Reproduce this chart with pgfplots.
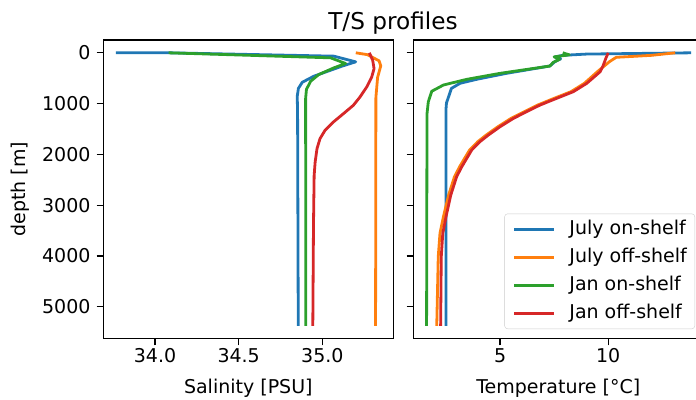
\documentclass[border=0pt]{standalone}
\usepackage{fontspec}
\setmainfont{DejaVu Sans}
\usepackage{pgfplots}
\pgfplotsset{compat=1.18}
\definecolor{c0}{HTML}{1F77B4}
\definecolor{c1}{HTML}{FF7F0E}
\definecolor{c2}{HTML}{2CA02C}
\definecolor{c3}{HTML}{D62728}
\pgfplotsset{
  tsstyle/.style={
    scale only axis, width=290pt, height=298.5pt,
    y dir=reverse, ymin=-252, ymax=5624,
    ytick={0,1000,2000,3000,4000,5000},
    tick align=outside, xtick pos=bottom, ytick pos=left,
    major tick length=6.75pt,
    axis line style={black, line width=1.3pt},
    tick style={black, line width=1.3pt},
    /pgf/number format/assume math mode=true,
    /pgf/number format/set thousands separator={},
    every tick label/.append style={font=\fontsize{19}{23}\selectfont},
    yticklabel style={xshift=-2.5pt},
    label style={font=\fontsize{19}{23}\selectfont},
    every axis plot/.append style={line width=2.8pt, line join=round},
    clip=true,
  }
}
\begin{document}
\begin{tikzpicture}[font=\fontsize{19}{23}\selectfont]
\useasboundingbox (0,0) rectangle (696pt,399pt);
\begin{axis}[tsstyle, at={(103.3pt,60.5pt)}, anchor=south west,
  xmin=33.691, xmax=35.424, xtick={34,34.5,35},
  xticklabel style={/pgf/number format/.cd, fixed, fixed zerofill, precision=1},
  xlabel={Salinity [PSU]}, ylabel={depth [m]},
  xlabel style={at={(axis description cs:0.5,-0.1826)}, anchor=base},
  ylabel style={at={(axis description cs:-0.2855,0.5)}, anchor=center, rotate=0},
]
\addplot[c0] coordinates {(33.766,0) (34.08,0) (35.069,66) (35.199,178) (35.12,260) (34.949,461) (34.88,580) (34.857,700) (34.85,856) (34.852,1200) (34.856,5375)};
\addplot[c1] coordinates {(35.20,0) (35.27,37) (35.339,158) (35.349,257) (35.33,487) (35.32,880) (35.318,5375)};
\addplot[c2] coordinates {(34.081,0) (35.049,99) (35.139,210) (35.069,296) (34.979,427) (34.93,560) (34.905,720) (34.90,900) (34.901,5375)};
\addplot[c3] coordinates {(35.281,0) (35.301,148) (35.309,312) (35.295,476) (35.265,673) (35.225,870) (35.185,1034) (35.126,1198) (35.066,1362) (35.016,1526) (34.986,1690) (34.968,1887) (34.957,2150) (34.951,2413) (34.947,3400) (34.943,5375)};
\end{axis}
\begin{axis}[tsstyle, at={(413.3pt,60.5pt)}, anchor=south west,
  xmin=0.986, xmax=14.40, xtick={5,10}, yticklabels={},
  xlabel={Temperature [°C]},
  xlabel style={at={(axis description cs:0.5,-0.1826)}, anchor=base},
  legend style={at={(1,0)}, anchor=south east, xshift=-8.3pt, yshift=9.5pt,
    draw=black!20, rounded corners=3pt, fill=white, fill opacity=0.8, text opacity=1,
    font=\fontsize{19}{23}\selectfont, row sep=9pt, inner xsep=8pt, inner ysep=6pt,
    nodes={inner sep=0pt, text height=14.5pt, text depth=4.5pt},
    column sep=14pt, cells={anchor=west}},
  legend image code/.code={\draw[#1, line width=2.8pt] (0pt,0pt) -- (40pt,0pt);},
]
\addplot[c0] coordinates {(13.84,0) (9.0,25) (7.9,50) (7.55,80) (7.8,120) (7.55,170) (7.3,260) (5.3,404) (3.92,522) (3.15,600) (2.75,700) (2.62,864) (2.52,986) (2.5,1100) (2.5,5375)};
\addlegendentry{July on-shelf}
\addplot[c1] coordinates {(13.1,0) (12.0,50) (10.37,89) (10.06,175) (9.5,372) (8.9,601) (8.28,765) (7.5,896) (6.74,1028) (6.12,1159) (5.51,1290) (4.9,1455) (4.36,1618) (3.97,1749) (3.59,1913) (3.36,2077) (3.13,2242) (2.89,2439) (2.62,2800) (2.38,3225) (2.22,3553) (2.14,4012) (2.07,5375)};
\addlegendentry{July off-shelf}
\addplot[c2] coordinates {(7.9,0) (8.2,40) (7.5,80) (7.75,130) (7.45,190) (7.31,260) (5.0,404) (3.46,522) (2.38,634) (1.84,757) (1.68,964) (1.62,1200) (1.6,5375)};
\addlegendentry{Jan on-shelf}
\addplot[c3] coordinates {(10.0,0) (9.9,100) (9.75,270) (9.63,372) (9.01,601) (8.39,765) (7.62,896) (6.85,1028) (6.23,1159) (5.62,1290) (5.0,1455) (4.46,1618) (4.07,1749) (3.69,1913) (3.46,2077) (3.23,2242) (2.99,2439) (2.72,2800) (2.5,3225) (2.35,3553) (2.28,4012) (2.25,5375)};
\addlegendentry{Jan off-shelf}
\end{axis}
\node[font=\fontsize{23.2}{28}\selectfont, anchor=base] at (393pt,369.5pt) {T/S profiles};
\end{tikzpicture}
\end{document}
